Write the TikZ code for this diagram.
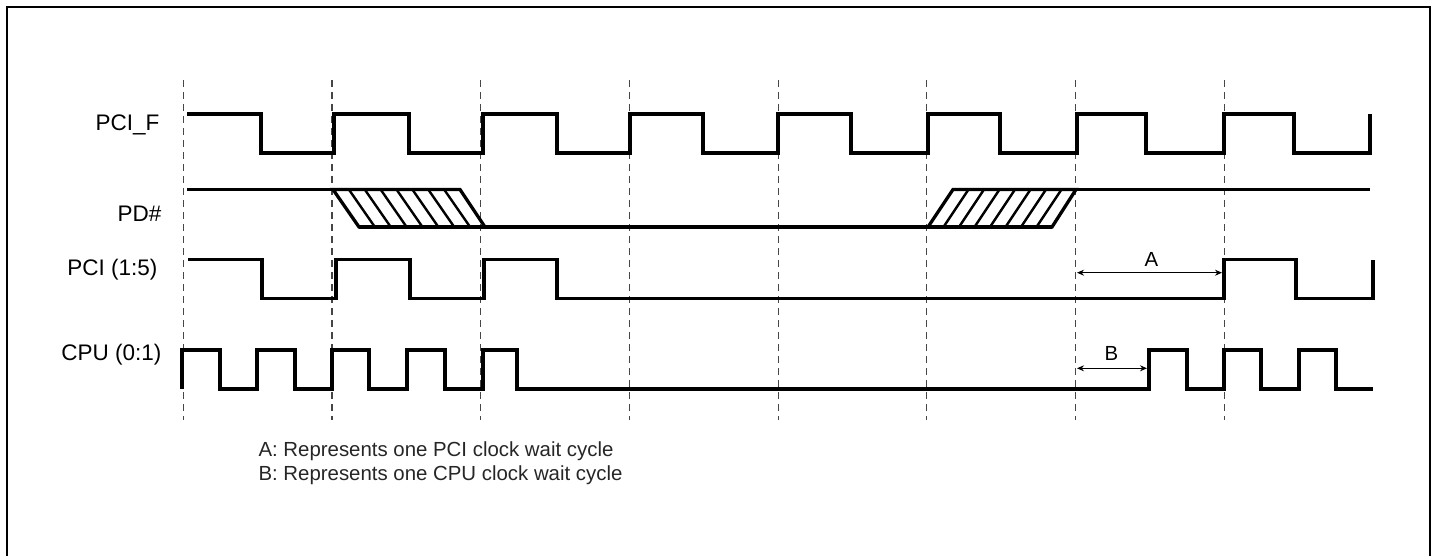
\documentclass[tikz,border=0pt]{standalone}
\usepackage{fontspec}
\setmainfont{Liberation Sans}
\usetikzlibrary{arrows.meta}

\tikzset{
  signal/.style={line width=3.3pt},
  hatchline/.style={line width=2.4pt},
  gridline/.style={line width=1.1pt, gray!55!black, dash pattern=on 7pt off 5pt},
  waitarrow/.style={line width=1pt, {Stealth[length=7pt,width=6pt]}-{Stealth[length=7pt,width=6pt]}},
  signame/.style={anchor=base east, font=\fontsize{22.5}{27}\selectfont},
  waitname/.style={anchor=base, font=\fontsize{20.4}{24}\selectfont},
  notetext/.style={anchor=base west, text=black!85, font=\fontsize{20.4}{24}\selectfont},
}

\begin{document}
\begin{tikzpicture}[x=1pt, y=-1pt]
    \useasboundingbox (0,0) rectangle (1434,556);
    \draw[line width=1.3pt] (7,556) -- (7,7) -- (1430,7) -- (1430,556);

    % clock edges
    \foreach \i in {0,...,7}
        \draw[gridline] ({183.3+148.7*\i},80) -- ({183.3+148.7*\i},420);

    % signal names
    \node[signame] (pcif) at (163,131) {PCI\_F};
    \node[signame] (pd) at (165,221.5) {PD\#};
    \node[signame] (pci) at (161,275) {PCI (1:5)};
    \node[signame] (cpu) at (165,360) {CPU (0:1)};

    % PCI_F
    \draw[signal] (187,114) -| (261,153) -| (334,114) -| (409,153) -| (483,114)
        -| (557,153) -| (630,114) -| (703,153) -| (778,114) -| (851,153)
        -| (928,114) -| (1000,153) -| (1077,114) -| (1146,153) -| (1224,114)
        -| (1294,153) -| (1370,114);

    % PD#
    \draw[signal] (187,189.5) -- (460,189.5);
    \draw[signal] (333,189.5) -- (460,189.5) -- (485,227) -- (359,227) -- cycle;
    \foreach \i in {1,...,7}
        \draw[hatchline] ({333+15.875*\i},189.5) -- ({359+15.875*\i},227);
    \draw[signal] (359,227) -- (1052,227);
    \draw[signal] (928,227) -- (1052,227) -- (1076,189.5) -- (953,189.5) -- cycle;
    \foreach \i in {1,...,7}
        \draw[hatchline] ({928+15.5*\i},227) -- ({953+15.5*\i},189.5);
    \draw[signal] (953,189.5) -- (1370,189.5);

    % PCI (1:5)
    \draw[signal] (188,259.5) -| (262,298.5) -| (336,259.5) -| (410,298.5) -| (484,259.5)
        -| (557,298.5) -| (1224,259.5) -| (1296,298.5) -| (1373,259.5);

    % CPU (0:1)
    \draw[signal] (182,389) |- (220,350) |- (257,389) |- (295,350) |- (332,389)
        |- (369,350) |- (407,389) |- (445,350) |- (483,389) |- (517,350)
        |- (1149,389) |- (1187,350) |- (1224,389) |- (1261,350) |- (1299,389)
        |- (1336,350) |- (1373,389);

    % wait cycles
    \coordinate (aL) at (1077,272.7);
    \coordinate (aR) at (1222,272.7);
    \coordinate (bL) at (1077,368.3);
    \coordinate (bR) at (1147,368.3);
    \draw[waitarrow] (aL) -- (aR);
    \draw[waitarrow] (bL) -- (bR);
    \node[waitname] (wa) at (1151.5,266) {A};
    \node[waitname] (wb) at (1111.5,360.5) {B};

    \node[notetext] (notea) at (255,456.7) {A: Represents one PCI clock wait cycle};
    \node[notetext] (noteb) at (255,480.7) {B: Represents one CPU clock wait cycle};

\end{tikzpicture}
\end{document}
